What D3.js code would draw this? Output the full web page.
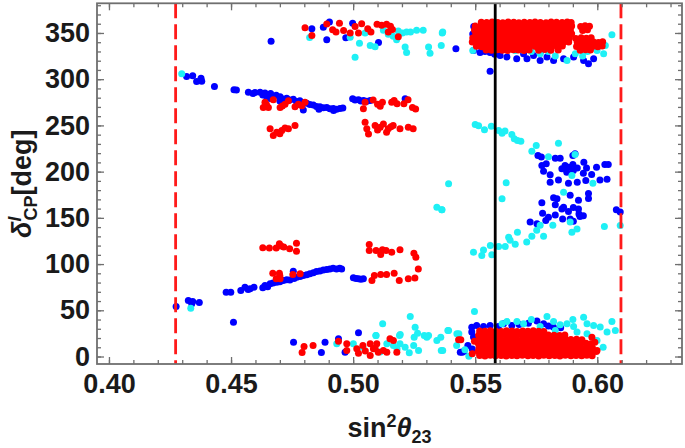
<!DOCTYPE html>
<html><head><meta charset="utf-8">
<script src="https://cdn.jsdelivr.net/npm/d3@7"></script>
<style>body{margin:0;background:#fff}svg{display:block}text{font-family:"Liberation Sans",Arial,sans-serif;font-weight:bold}</style>
</head><body><svg id="c" width="685" height="448"></svg>
<script>
const xTicks=[0.40,0.45,0.50,0.55,0.60];
const yTicks=[0,50,100,150,200,250,300,350];
const xMinor=[0.40,0.41,0.42,0.43,0.44,0.45,0.46,0.47,0.48,0.49,0.50,0.51,0.52,0.53,0.54,0.55,0.56,0.57,0.58,0.59,0.60,0.61,0.62,0.63];
const yMinor=[0,10,20,30,40,50,60,70,80,90,100,110,120,130,140,150,160,170,180,190,200,210,220,230,240,250,260,270,280,290,300,310,320,330,340,350,360,370,380];
const dashedX=[0.4273,0.6097];
const bestX=[0.5582];

const blueData=[
[.4318,303],[.4343,303.7],[.4359,297.5],[.4377,301],[.4380,297.9],[.4432,292],[.4512,288.5],[.4522,288.2],[.4571,286],[.4590,284.5],[.4598,285.5],[.4619,286],[.4630,283],[.4639,285],[.4645,281.5],[.4653,282.6],[.4662,284.5],[.4673,281],[.4685,282.5],[.4701,281],[.4712,278.5],[.4728,279.3],[.4740,277.5],[.4755,278.2],[.4768,276],[.4782,276.8],[.4795,274],[.4810,274],[.4823,272.5],[.4837,272],[.4850,270.5],[.4864,270.2],[.4878,269],[.4892,269.5],[.4905,268],[.4919,268.4],[.4932,267.5],[.4946,268.4],[.4958,268.8],[.4796,266.6],[.4700,276.5],[.4660,279],[.4780,272.5],[.4860,267.5],[.4920,266],
[.4998,278.8],[.5008,277.5],[.5022,277.7],[.5032,276.5],[.5043,277],[.5056,276.2],[.5070,277],[.5213,278.8],
[.4664,341],[.4831,354.5],[.4878,356.3],[.4903,362],[.4892,342.6],[.4998,360.6],[.4970,344.8],[.5104,339.7],[.5421,332.9],[.5561,308.7],
[.4275,54],[.4325,60.6],[.4339,57],[.4343,59.5],[.4370,58.5],[.4480,69.6],[.4499,69.6],[.4540,71.4],[.4557,75],[.4570,72.5],[.4578,73.2],[.4594,75],[.4630,74.5],[.4639,76.8],[.4650,75.5],[.4660,78.6],[.4672,79.5],[.4687,80.4],[.4700,81],[.4714,82.2],[.4728,83],[.4741,82.9],[.4755,92.3],[.4758,84.5],[.4769,85.8],[.4783,86.5],[.4796,87.6],[.4810,88.5],[.4823,89.4],[.4837,90.5],[.4850,91.9],[.4864,92.5],[.4878,93.7],[.4892,94],[.4905,94.8],[.4918,95.5],[.4932,94.8],[.4945,95.5],[.4953,94.8],
[.5001,85.1],[.5012,84.5],[.5022,84],[.5032,83.5],[.5042,84],[.4510,37.1],
[.4756,15.5],[.4885,15.5],[.4870,4.3],[.5022,25.6],[.4940,19.1],[.4967,4.7],[.5439,4.7],[.5447,4.7],[.5454,5.8],
[.5486,31.7],[.5506,33.5],[.5534,32.5],[.5561,33.5],[.5595,32.5],[.5616,35.4],[.5650,33.5],[.5680,34.5],[.5718,36.1],[.5753,38.3],[.5780,35.4],[.5800,33],[.5486,26.4],[.5493,21],[.5470,12],[.5488,8],[.5820,32],[.5850,31],
[.5494,357],[.5490,349],[.5493,331],[.5520,329],[.5561,329],[.5602,325.7],[.5630,324],[.5670,322],[.5698,327.4],[.5712,322],[.5739,325.7],[.5766,320.2],[.5766,329],[.5794,324],[.5821,320.2],[.5862,322],[.5903,324],[.5944,320.2],[.5964,316.6],[.5985,322],[.5540,330],[.5580,327],
[.5757,217.5],[.5771,215.7],[.5828,214.6],[.5848,214.6],[.5900,217.5],[.5909,219.3],[.5773,206.6],[.5791,208.4],[.5780,200.4],[.5807,196.5],[.5855,203],[.5868,206.6],[.5882,204.8],[.5900,207.7],[.5902,201.2],[.5918,204],[.5945,210.2],[.5956,204],[.5977,196.9],[.5943,198.3],[.5997,204.8],[.6031,207.7],[.6045,207.7],[.6011,191],[.6040,191.8],[.5841,191],[.5882,187.5],[.5918,188.5],[.5807,188.5],[.5953,190.3],[.5875,199.4],
[.5821,171.7],[.5835,170.6],[.5773,166.3],[.5828,164.2],[.5889,174.5],[.5923,169],[.5964,176.3],[.5964,170.9],[.5855,159.6],[.5862,161.5],[.5882,157],[.5902,161.3],[.5923,159.6],[.5929,151.4],[.5943,152.4],[.5776,155],[.5800,150.6],[.5828,153],[.5858,148.8],[.5889,148.8],[.5725,145.4],[.5753,143.6],[.5789,147.2],[.5902,146.2],[.5925,154.1],[.6078,158.7],[.6094,156.2]
];

const cyanData=[
[.4298,305.9],[.4335,52.3],
[.4822,345],[.4988,345.5],[.5026,339],[.5008,323.8],[.5049,350],[.5070,336.5],[.5090,335],[.5124,353],[.5144,348.6],[.5164,346.4],[.5185,352.2],[.5178,342.8],[.5202,350],[.5219,351],[.5235,351],[.5260,352.9],[.5287,352.9],[.5213,334.7],[.5219,329],[.5309,334.7],[.5315,328],[.5365,350],[.5361,336.5],
[.5391,186.8],[.5343,161.6],[.5363,158.7],[.5364,158.7],
[.5500,251],[.5514,249.6],[.5538,245.2],[.5566,249],[.5596,244.5],[.5610,241.6],[.5622,244],[.5650,240.2],[.5660,235.5],[.5673,233.7],[.5687,233],[.5750,228.3],[.5732,222],[.5841,230.8],[.5800,216.2],[.5909,218.4],
[.5493,112.8],[.5527,109.2],[.5534,115.3],[.5562,120],[.5568,110],[.5596,119],[.5623,119],[.5637,129],[.5643,125.8],[.5664,121.4],[.5673,134.4],[.5711,124],[.5732,130],[.5752,136.5],[.5766,141.9],[.5780,130],[.5818,141.9],[.5862,177.8],[.5889,145.5],[.5896,134.4],[.5917,138],[.5896,195.8],[.5982,187.5],[.6029,140.6],[.6094,141.7],[.5627,187.9],[.5610,170.6],
[.4933,13.7],[.5001,13.7],[.5121,35.4],[.5093,22.7],[.5138,13.7],[.5165,11.9],[.5190,22.7],[.5192,13.7],[.5213,10.1],[.5234,43.3],[.5250,20.9],[.5264,25.2],[.5268,6.5],[.5248,11.9],[.5291,22.7],[.5309,22.7],[.5343,17.3],[.5359,20.9],[.5391,28.1],[.5367,6.5],[.5425,24.5],[.5254,31.7],[.5193,23.8],[.5094,22.7],[.5388,28.1],[.5302,20.8],[.5040,10],[.5110,5],[.5180,8],[.5230,4],
[.5497,48.7],[.5433,24.5],[.5361,6.5],[.5424,11.9],[.5458,7.2],[.5474,0.4],
[.5671,37.8],[.5698,35.4],[.5794,43.3],[.5821,37.8],[.5848,34.3],[.5876,35.4],[.5903,32.5],[.5944,42.6],[.5958,35.4],[.5985,33.5],[.6012,32],[.6060,37.8],[.6074,28.1],[.6040,26.4],[.6024,10.1],[.5999,17.3],[.5828,28.1],[.5766,32.5],[.5630,37.8],[.5610,35.4],[.5917,26.4],[.5958,24.5],[.5730,40],[.5900,40],
[.5367,351],[.5490,331],[.5664,331],[.5693,331.6],[.5730,330],[.5766,327.4],[.5800,330],[.5828,325],[.5876,320.2],[.5910,327.4],[.5940,325],[.5999,331],[.6026,327.4],[.6033,336.5],[.6060,348],[.5960,330]
];

const redData=[
[.4803,355.6],[.4831,347.3],[.4892,359.8],[.4916,353.4],[.4930,351],[.4944,360.6],[.4961,352.7],[.4988,350],[.5008,357],[.5022,350],[.5035,360],[.5060,354.5],[.5073,351],[.5098,359.4],[.5117,358.3],[.5137,359.4],[.5153,357.4],[.5161,353.8],[.5144,351],[.5185,345.8],
[.4639,275],[.4632,269.5],[.4653,269.5],[.4673,277.8],[.4701,269.5],[.4721,273],[.4735,276.8],[.4762,270.2],[.4776,273],[.4803,275],[.4790,271.3],[.4710,271],[.4645,272.5],
[.5049,275],[.5042,268],[.5082,277.4],[.5111,270.8],[.5120,275],[.5158,275],[.5168,277],[.5180,273.5],[.5208,273.5],[.5225,277.8],[.5243,269.5],[.5256,267.7],[.5100,273],
[.4660,246.3],[.4673,239],[.4687,242.6],[.4708,244.4],[.4721,247.3],[.4735,246.3],[.4762,249.8],[.4700,241],
[.5049,253.5],[.5056,246.3],[.5063,240.8],[.5090,249.8],[.5111,248],[.5124,251.6],[.5144,246.3],[.5164,249.8],[.5192,246.3],[.5226,248],[.5246,246.3],[.5137,242.6],[.5100,245],[.5155,248.5],
[.4630,117.6],[.4657,117.3],[.4685,117.3],[.4698,122],[.4716,118.4],[.4740,116.6],[.4768,122.6],[.4768,114],[.4705,119.5],
[.5066,121.2],[.5066,114.7],[.5094,114.7],[.5113,110.4],[.5135,114.7],[.5158,112.9],[.5192,115.4],[.5249,111.8],[.5257,107.5],[.5120,115.5],
[.4671,90.2],[.4698,90.2],[.4701,84],[.4685,84],[.4753,88.7],[.4783,89.5],[.4700,87],
[.5077,82.2],[.5087,87.6],[.5113,88.7],[.5137,88.7],[.5168,90.2],[.5189,82.2],[.5226,84],[.5253,85],[.5267,94.8],
[.4799,10.8],[.4791,4.3],[.4836,11.9],[.4940,16.6],[.4974,13.7],[.4974,6.5],[.5015,8.3],[.5022,3.6],[.5070,13.7],[.5083,8.3],[.5070,1.1],[.5097,13.7],[.5103,4.7],[.5124,6.5],[.5138,4.7],[.5151,19.1],[.5165,17.3],[.5179,4.7],[.5432,18],[.5441,18],[.5050,6],[.5090,9],[.5040,12],
[.5497,16.6],[.5488,3],[.5990,15.5],[.5999,6.5],[.5958,4.3],[.5978,20.9],
[.5518,1],[.5540,.6],[.5562,1.4],[.5583,.8],[.5606,1.2],[.5627,.5],[.5650,1.1],[.5671,.9],[.5693,1.5],[.5716,.7],[.5737,1.2],[.5760,.6],[.5781,1.3],[.5803,.9],[.5826,1.1],[.5847,.5],[.5869,1.4],[.5892,.8],[.5913,1.2],[.5936,.7],[.5957,1.3],[.5979,.9],
[.5512,5.3],[.5534,4.9],[.5557,5.6],[.5578,5.1],[.5601,4.8],[.5622,5.5],[.5644,5.2],[.5667,4.7],[.5688,5.4],[.5711,5],[.5732,5.7],[.5755,5.1],[.5776,4.8],[.5798,5.5],[.5821,5.2],[.5842,4.9],[.5865,5.6],[.5886,5],[.5908,5.3],[.5931,4.8],[.5952,5.5],[.5975,5.1],[.5996,5.4],
[.5516,9.7],[.5538,9.3],[.5560,10],[.5583,9.5],[.5604,9.2],[.5626,9.9],[.5649,9.6],[.5670,9.1],[.5692,9.8],[.5715,9.4],[.5736,10.1],[.5758,9.5],[.5781,9.2],[.5802,9.9],[.5824,9.6],[.5847,9.3],[.5868,10],[.5890,9.4],[.5913,9.7],[.5934,9.2],[.5956,9.9],[.5980,9.5],
[.5513,14.1],[.5535,13.7],[.5558,14.4],[.5579,13.9],[.5601,13.6],[.5624,14.3],[.5645,14],[.5667,13.5],[.5690,14.2],[.5711,13.8],[.5733,14.5],[.5756,13.9],[.5777,13.6],[.5799,14.3],[.5822,14],[.5843,13.7],[.5866,14.4],[.5888,13.8],[.5909,14.1],[.5931,13.6],[.5954,14.3],[.5975,13.9],
[.5517,18.6],[.5539,18.2],[.5561,18.9],[.5584,18.4],[.5605,18.1],[.5627,18.8],[.5650,18.5],[.5671,18],[.5694,18.7],[.5716,18.3],[.5737,19],[.5760,18.4],[.5782,18.1],[.5803,18.8],[.5826,18.5],[.5848,18.2],[.5870,18.9],[.5892,18.3],[.5915,18.6],[.5937,18.1],
[.5514,23.1],[.5536,22.7],[.5559,23.4],[.5580,22.9],[.5602,22.6],[.5625,23.3],[.5646,23],[.5668,22.5],[.5691,23.2],[.5712,22.8],[.5734,23.5],[.5757,22.9],[.5778,22.6],[.5800,23.3],[.5823,23],[.5846,22.7],[.5867,23.4],
[.5518,27.6],[.5540,27.2],[.5562,27.9],[.5585,27.4],[.5607,27.1],[.5628,27.8],[.5651,27.5],[.5672,27],[.5695,27.7],[.5716,27.3],[.5738,28],[.5760,27.4],[.5781,27.1],
[.5525,361.6],[.5547,361.2],[.5569,361.9],[.5592,361.4],[.5613,361.1],[.5635,361.8],[.5658,361.5],[.5679,361],[.5701,361.7],[.5724,361.3],[.5745,362],[.5767,361.4],[.5790,361.1],[.5811,361.8],[.5833,361.5],[.5856,361.2],[.5877,361.9],[.5893,361.3],
[.5500,357.6],[.5522,357.2],[.5544,357.9],[.5567,357.4],[.5588,357.1],[.5610,357.8],[.5633,357.5],[.5654,357],[.5676,357.7],[.5699,357.3],[.5720,358],[.5742,357.4],[.5765,357.1],[.5786,357.8],[.5808,357.5],[.5831,357.2],[.5852,357.9],[.5874,357.3],[.5895,357.6],[.5932,357.1],[.5950,357.8],[.5968,357.4],
[.5497,353.3],[.5519,352.9],[.5541,353.6],[.5564,353.1],[.5585,352.8],[.5607,353.5],[.5630,353.2],[.5651,352.7],[.5673,353.4],[.5696,353],[.5717,353.7],[.5739,353.1],[.5762,352.8],[.5783,353.5],[.5805,353.2],[.5828,352.9],[.5849,353.6],[.5871,353],[.5890,353.3],[.5940,352.8],[.5960,353.5],
[.5502,349.1],[.5524,348.7],[.5546,349.4],[.5569,348.9],[.5590,348.6],[.5612,349.3],[.5635,349],[.5656,348.5],[.5678,349.2],[.5701,348.8],[.5722,349.5],[.5744,348.9],[.5767,348.6],[.5788,349.3],[.5810,349],[.5833,348.7],[.5854,349.4],[.5876,348.8],[.5895,349.1],
[.5490,344.6],[.5512,344.2],[.5534,344.9],[.5557,344.4],[.5578,344.1],[.5600,344.8],[.5623,344.5],[.5644,344],[.5666,344.7],[.5689,344.3],[.5710,345],[.5732,344.4],[.5755,344.1],[.5776,344.8],[.5798,344.5],[.5821,344.2],[.5842,344.9],[.5864,344.3],[.5886,344.6],[.5912,344.1],[.5934,344.8],[.5955,344.4],[.5975,344.7],
[.5488,340.1],[.5509,339.7],[.5531,340.4],[.5554,339.9],[.5575,339.6],[.5597,340.3],[.5620,340],[.5641,339.5],[.5663,340.2],[.5686,339.8],[.5707,340.5],[.5729,339.9],[.5752,339.6],[.5773,340.3],[.5795,340],[.5818,339.7],[.5839,340.4],[.5861,339.8],[.5883,340.1],[.5918,339.6],[.5940,340.3],[.5962,339.9],[.5985,340.2],[.6005,339.7],[.6022,340.4],
[.5505,335.6],[.5527,335.2],[.5549,335.9],[.5572,335.4],[.5593,335.1],[.5615,335.8],[.5638,335.5],[.5659,335],[.5681,335.7],[.5704,335.3],[.5725,336],[.5747,335.4],[.5770,335.1],[.5791,335.8],[.5813,335.5],[.5836,335.2],[.5857,335.9],[.5915,335.4],[.5937,335.1],[.5958,335.8],[.5980,335.5],[.6002,335.2],[.6020,335.9],
[.5545,331.6],[.5567,331.2],[.5590,331.9],[.5611,331.4],[.5633,331.1],[.5656,331.8],[.5677,331.5],[.5699,331],[.5721,331.7],[.5760,331.3],[.5785,332],[.5810,331.4],[.5840,331.7],[.5930,331.2],[.5952,331.9],[.5972,331.5]
];

const W=685,H=448;
const L=97,R=682,T=3.3,B=364;
const x=d3.scaleLinear().domain([0.3951,0.6347]).range([L,R]);
const y=d3.scaleLinear().domain([-8.1,382.1]).range([B,T]);
const svg=d3.select("#c");
const fmt=d3.format(".2f");
const frameColor="#6f6f6f";

const plot=svg.append("g");
svg.append("clipPath").attr("id","clp").append("rect").attr("x",L).attr("y",T).attr("width",R-L).attr("height",B-T);
const pts=plot.append("g").attr("clip-path","url(#clp)");

const series=[{d:blueData,c:"#0000ff"},{d:cyanData,c:"#1ff0f5"},{d:redData,c:"#ff0000"}];
series.forEach(s=>{
  pts.append("g").selectAll("circle").data(s.d).join("circle")
    .attr("cx",d=>x(d[0])).attr("cy",d=>y(d[1])).attr("r",3.5).attr("fill",s.c);
});

plot.selectAll("line.dash").data(dashedX).join("line").attr("class","dash")
  .attr("x1",d=>x(d)).attr("x2",d=>x(d)).attr("y1",T).attr("y2",B)
  .attr("stroke","#ff1a1a").attr("stroke-width",2.8).attr("stroke-dasharray","15,6");
plot.selectAll("line.best").data(bestX).join("line").attr("class","best")
  .attr("x1",d=>x(d)).attr("x2",d=>x(d)).attr("y1",T).attr("y2",B)
  .attr("stroke","#000").attr("stroke-width",2.8);

function styleAxis(g){g.select(".domain").remove();g.selectAll(".tick line").attr("stroke",frameColor).attr("stroke-width",1.3);}
const lblFont=g=>g.selectAll("text").attr("font-size",27).attr("font-weight","bold").attr("fill","#1a1a1a").attr("font-family","Liberation Sans, Arial, sans-serif");

svg.append("g").attr("transform",`translate(0,${B})`).call(d3.axisBottom(x).tickValues(xMinor).tickSize(-4).tickFormat("")).call(styleAxis);
svg.append("g").attr("transform",`translate(0,${B})`).call(d3.axisBottom(x).tickValues(xTicks).tickSize(-7).tickPadding(10).tickFormat(fmt)).call(styleAxis).call(lblFont);
svg.append("g").attr("transform",`translate(0,${T})`).call(d3.axisTop(x).tickValues(xMinor).tickSize(-4).tickFormat("")).call(styleAxis);
svg.append("g").attr("transform",`translate(0,${T})`).call(d3.axisTop(x).tickValues(xTicks).tickSize(-7).tickFormat("")).call(styleAxis);
svg.append("g").attr("transform",`translate(${L},0)`).call(d3.axisLeft(y).tickValues(yMinor).tickSize(-4).tickFormat("")).call(styleAxis);
svg.append("g").attr("transform",`translate(${L},0)`).call(d3.axisLeft(y).tickValues(yTicks).tickSize(-7).tickPadding(7).tickFormat(d3.format("d"))).call(styleAxis).call(lblFont);
svg.append("g").attr("transform",`translate(${R},0)`).call(d3.axisRight(y).tickValues(yMinor).tickSize(-4).tickFormat("")).call(styleAxis);
svg.append("g").attr("transform",`translate(${R},0)`).call(d3.axisRight(y).tickValues(yTicks).tickSize(-7).tickFormat("")).call(styleAxis);

svg.append("rect").attr("x",L).attr("y",T).attr("width",R-L).attr("height",B-T)
  .attr("fill","none").attr("stroke",frameColor).attr("stroke-width",1.8);

const xt=svg.append("text").attr("x",(L+R)/2).attr("y",437).attr("text-anchor","middle").attr("font-size",27).attr("fill","#1a1a1a");
xt.append("tspan").text("sin");
xt.append("tspan").attr("font-size",18).attr("dy",-10).text("2");
xt.append("tspan").attr("font-style","italic").attr("dy",10).text("θ");
xt.append("tspan").attr("font-size",18).attr("dy",6).text("23");

const yt=svg.append("text").attr("transform",`translate(31,${(T+B)/2}) rotate(-90)`).attr("text-anchor","middle").attr("font-size",27).attr("fill","#1a1a1a");
yt.append("tspan").attr("font-style","italic").text("δ");
yt.append("tspan").attr("font-size",18).attr("font-style","italic").attr("dy",-10).text("l");
yt.append("tspan").attr("font-size",18).attr("dy",16).attr("dx",-4).text("CP");
yt.append("tspan").attr("dy",-6).text("[deg]");
</script></body></html>
